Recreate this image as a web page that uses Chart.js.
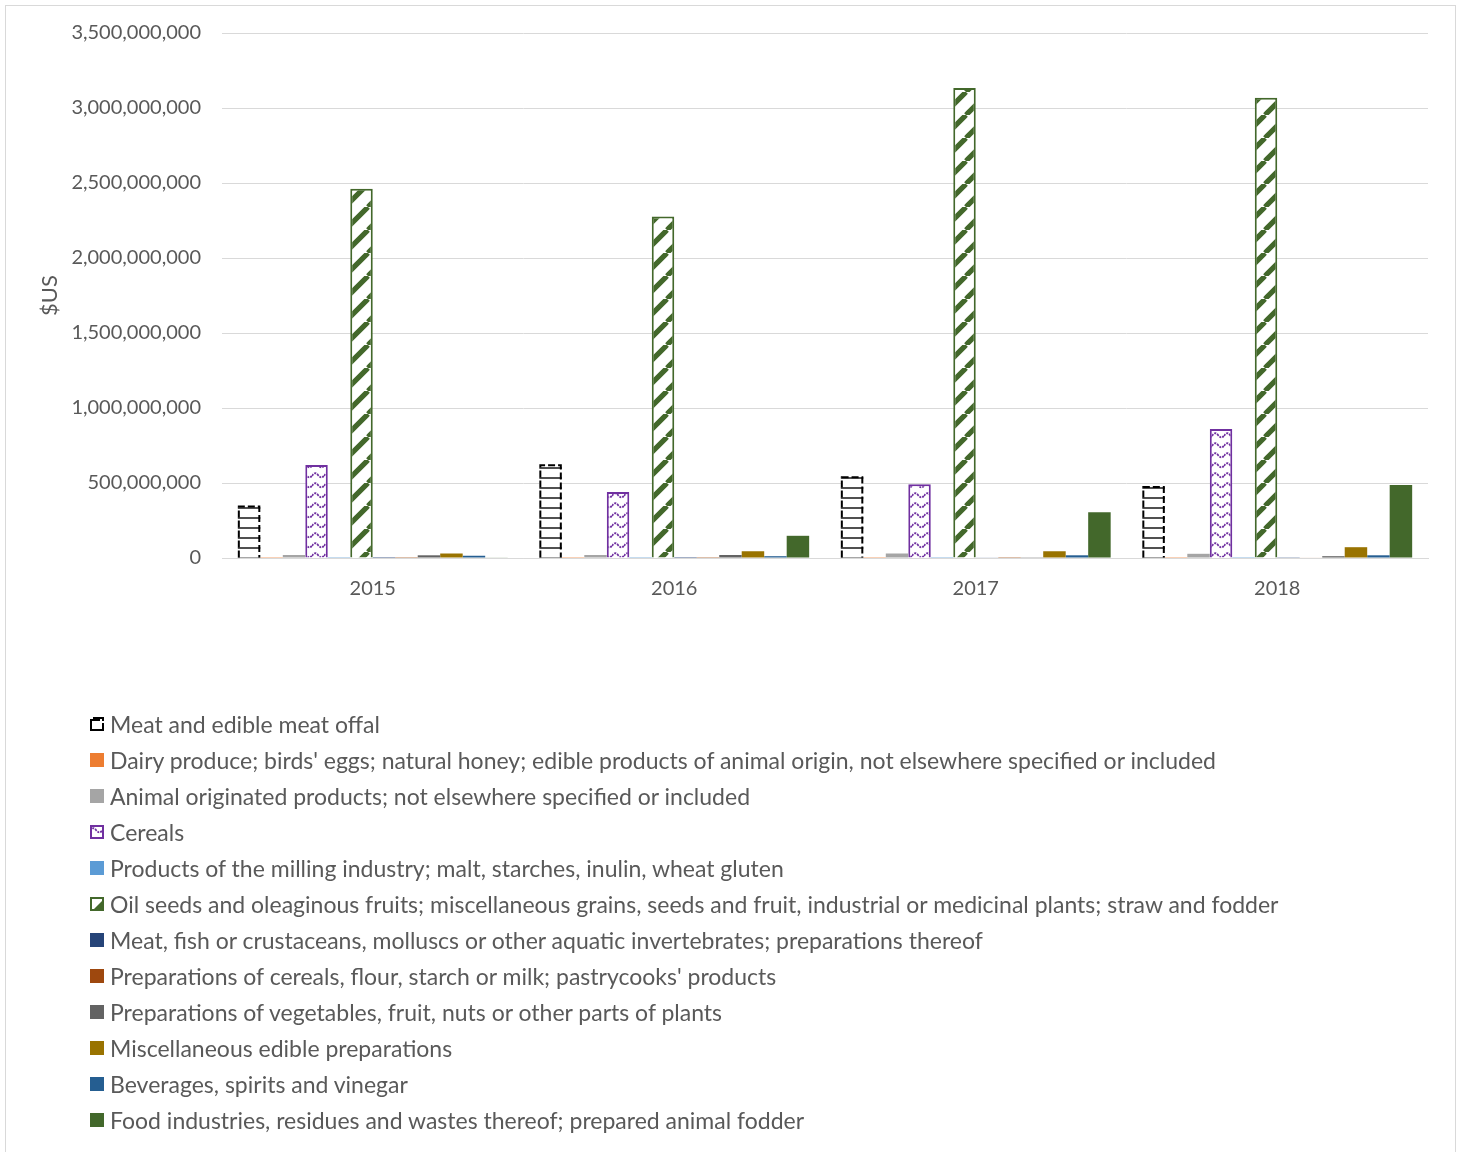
<!DOCTYPE html>
<html><head><meta charset="utf-8">
<script src="https://cdn.jsdelivr.net/npm/chart.js@4/dist/chart.umd.min.js"></script>
<style>
body{margin:0;background:#fff;width:1462px;height:1152px;position:relative;overflow:hidden;font-family:Lato,'Open Sans',sans-serif;}
#frame{position:absolute;left:5px;top:5px;width:1451px;height:1152px;border:1px solid #d9d9d9;box-sizing:border-box;}
#c{position:absolute;left:0;top:0;}
#legend{position:absolute;left:90px;top:706px;}
.item{height:36px;display:flex;align-items:center;font-size:23px;color:#595959;white-space:nowrap;}
.item canvas{width:14px;height:14px;margin-right:6px;flex:none;}
</style></head>
<body>
<div id="frame"></div>
<canvas id="c" width="1462" height="630"></canvas>
<div id="legend"></div>
<script>
const categories = ['2015','2016','2017','2018'];
const seriesNames = [
 'Meat and edible meat offal',
 "Dairy produce; birds' eggs; natural honey; edible products of animal origin, not elsewhere specified or included",
 'Animal originated products; not elsewhere specified or included',
 'Cereals',
 'Products of the milling industry; malt, starches, inulin, wheat gluten',
 'Oil seeds and oleaginous fruits; miscellaneous grains, seeds and fruit, industrial or medicinal plants; straw and fodder',
 'Meat, fish or crustaceans, molluscs or other aquatic invertebrates; preparations thereof',
 "Preparations of cereals, flour, starch or milk; pastrycooks' products",
 'Preparations of vegetables, fruit, nuts or other parts of plants',
 'Miscellaneous edible preparations',
 'Beverages, spirits and vinegar',
 'Food industries, residues and wastes thereof; prepared animal fodder'
];
const meat        = [350000000, 625000000, 545000000, 480000000];
const dairy       = [1000000, 1000000, 1000000, 1000000];
const animal      = [20000000, 20000000, 30000000, 28000000];
const cereals     = [620000000, 440000000, 492000000, 860000000];
const milling     = [1000000, 1000000, 1000000, 1000000];
const oilSeeds    = [2462000000, 2276000000, 3134000000, 3068000000];
const meatFish    = [500000, 500000, 4000000, 5000000];
const prepCereals = [1000000, 1000000, 1000000, 3000000];
const prepVeg     = [18000000, 20000000, 5000000, 12000000];
const misc        = [30000000, 45000000, 45000000, 72000000];
const beverages   = [15000000, 12000000, 18000000, 18000000];
const foodInd     = [4000000, 148000000, 305000000, 487000000];
const yTicks = [0, 500000000, 1000000000, 1500000000, 2000000000, 2500000000, 3000000000, 3500000000];

const allValues = [meat, dairy, animal, cereals, milling, oilSeeds, meatFish, prepCereals, prepVeg, misc, beverages, foodInd];
const colors = ['#000000','#ED7D31','#A5A5A5','#7030A0','#5B9BD5','#43682B','#264478','#9E480E','#636363','#997300','#255E91','#43682B'];

function tile(w,h,draw){const c=document.createElement('canvas');c.width=w;c.height=h;const x=c.getContext('2d');x.fillStyle='#fff';x.fillRect(0,0,w,h);draw(x,w,h);return c;}
function meatPattern(ctx){
  return ctx.createPattern(tile(8,10,(x,w,h)=>{x.fillStyle='#505050';x.fillRect(0,7,w,2);}),'repeat');
}
function cerealPattern(ctx){
  return ctx.createPattern(tile(12,10,(x,w,h)=>{x.strokeStyle='#7030A0';x.lineWidth=1.8;x.setLineDash([2.2,1]);x.beginPath();x.moveTo(0,6);x.quadraticCurveTo(3,1,6,5);x.quadraticCurveTo(9,9,12,6);x.stroke();}),'repeat');
}
function stripePattern(ctx){
  return ctx.createPattern(tile(23,23,(x,w,h)=>{x.strokeStyle='#43682B';x.lineWidth=5.2;x.beginPath();for(let k=-1;k<=1;k++){x.moveTo(k*w,h);x.lineTo(k*w+w,0);}x.stroke();}),'repeat');
}

const canvas=document.getElementById('c');
const cctx=canvas.getContext('2d');
const fills=colors.slice();
fills[0]=meatPattern(cctx);
fills[3]=cerealPattern(cctx);
fills[5]=stripePattern(cctx);

const datasets=seriesNames.map((n,i)=>({
  label:n,
  data:allValues[i],
  backgroundColor:fills[i],
  borderColor:(i===3||i===5)?colors[i]:'rgba(0,0,0,0)',
  borderWidth:(i===3||i===5)?2:0,
  categoryPercentage:0.895,
  barPercentage:1.0
}));

const meatBorder={
  id:'meatBorder',
  afterDatasetDraw(chart,args){
    if(args.index!==0)return;
    const c=chart.ctx;const meta=args.meta;
    c.save();c.strokeStyle='#000';c.lineWidth=2;c.setLineDash([7,3]);
    meta.data.forEach(el=>{
      const p=el.getProps(['x','y','base','width'],true);
      const l=p.x-p.width/2+1,r=p.x+p.width/2-1;
      c.beginPath();
      c.moveTo(l,p.base);c.lineTo(l,p.y+1);c.lineTo(r,p.y+1);c.lineTo(r,p.base);
      c.stroke();
    });
    c.restore();
  }
};

const chart=new Chart(canvas,{
  type:'bar',
  data:{labels:categories,datasets},
  plugins:[meatBorder],
  options:{
    responsive:false,animation:false,
    layout:{padding:{top:32,right:34,left:0,bottom:0}},
    plugins:{legend:{display:false},tooltip:{enabled:false}},
    scales:{
      x:{
        grid:{display:false},
        border:{color:'#d9d9d9'},
        ticks:{color:'#595959',font:{family:'Lato',size:20},padding:11},
        afterFit(s){s.height=72;}
      },
      y:{
        min:0,max:3500000000,
        afterBuildTicks(s){s.ticks=yTicks.map(v=>({value:v}));},
        grid:{color:'#d9d9d9',drawTicks:false},
        border:{display:false},
        ticks:{color:'#595959',font:{family:'Lato',size:20},padding:21,callback:v=>Number(v).toLocaleString('en-US')},
        title:{display:true,text:'$US',color:'#595959',font:{family:'Lato',size:22},padding:{top:37,bottom:0}},
        afterFit(s){s.width=222;}
      }
    }
  }
});

const leg=document.getElementById('legend');
chart.data.datasets.forEach((d,i)=>{
  const it=document.createElement('div');it.className='item';
  const sw=document.createElement('canvas');sw.width=14;sw.height=14;
  const x=sw.getContext('2d');
  if(i===0){x.strokeStyle='#000';x.lineWidth=2;x.strokeRect(1,3,12,10);x.clearRect(10,0,4,6);x.beginPath();x.moveTo(3,1);x.lineTo(13,1);x.lineTo(13,4);x.stroke();}
  else if(i===3){x.fillStyle=cerealPattern(x);x.fillRect(0,0,14,14);x.strokeStyle=colors[3];x.lineWidth=2;x.strokeRect(1,1,12,12);}
  else if(i===5){x.fillStyle='#fff';x.fillRect(0,0,14,14);x.fillStyle='#43682B';x.beginPath();x.moveTo(13,3);x.lineTo(13,13);x.lineTo(3,13);x.closePath();x.fill();x.strokeStyle=colors[5];x.lineWidth=2;x.strokeRect(1,1,12,12);}
  else{x.fillStyle=colors[i];x.fillRect(0,0,14,14);}
  const t=document.createElement('span');t.textContent=d.label;
  it.appendChild(sw);it.appendChild(t);leg.appendChild(it);
});
</script>
</body></html>
